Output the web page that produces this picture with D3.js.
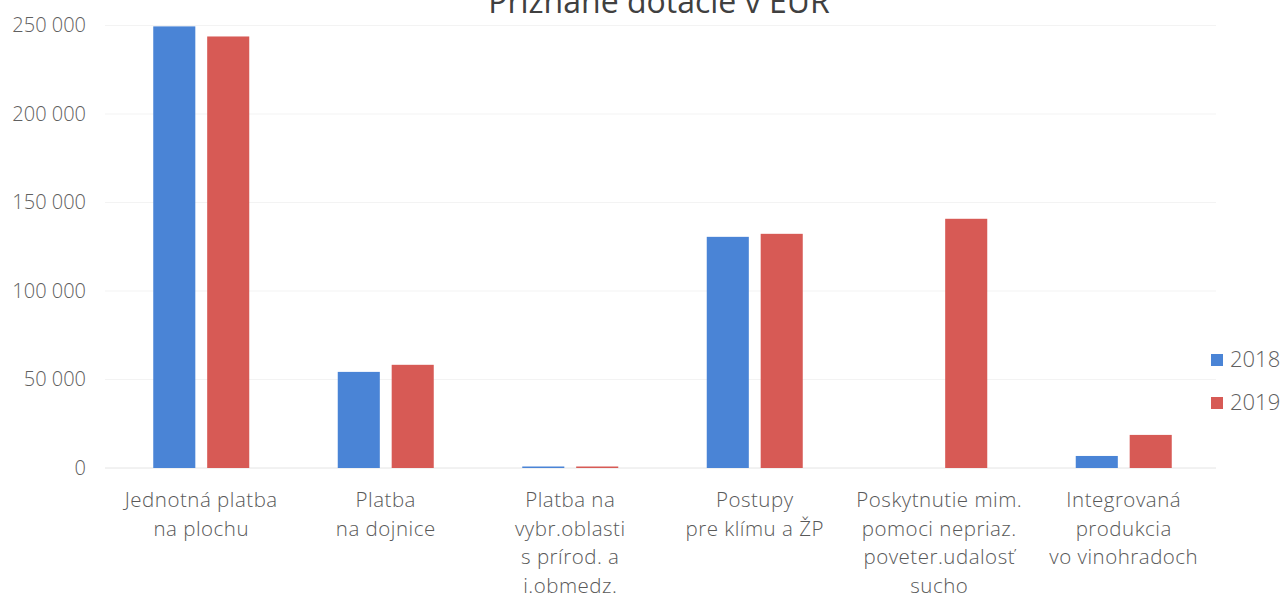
<!DOCTYPE html>
<html><head><meta charset="utf-8">
<script src="https://cdn.jsdelivr.net/npm/d3@7"></script>
<style>
html,body{margin:0;padding:0;background:#fff;}
svg{display:block;font-family:"Open Sans","Lato",sans-serif;}
</style></head>
<body>
<svg id="c" width="1282" height="598"></svg>
<script>
const categories = [
  ["Jednotná platba","na plochu"],
  ["Platba","na dojnice"],
  ["Platba na","vybr.oblasti","s prírod. a","i.obmedz."],
  ["Postupy","pre klímu a ŽP"],
  ["Poskytnutie mim.","pomoci nepriaz.","poveter.udalosť","sucho"],
  ["Integrovaná","produkcia","vo vinohradoch"]
];
const seriesNames = ["2018","2019"];
const values2018 = [249500, 54300, 500, 130600, 0, 6800];
const values2019 = [243800, 58300, 800, 132300, 140800, 18700];
const tickValues = [0, 50000, 100000, 150000, 200000, 250000];
const tickLabels = ["0","50 000","100 000","150 000","200 000","250 000"];
const colors = ["#4a84d6","#d75a55"];

const svg = d3.select("#c");
const x = d3.scaleBand().domain(d3.range(categories.length)).range([109,1216]);
const y = d3.scaleLinear().domain([0,250000]).range([468,25.5]);
const sub = d3.scaleBand().domain([0,1]).range([x.bandwidth()/2-48, x.bandwidth()/2+48]).paddingInner(0.22);

// gridlines
svg.append("g").selectAll("line").data(tickValues).join("line")
  .attr("x1",105).attr("x2",1216)
  .attr("y1",d=>y(d)).attr("y2",d=>y(d))
  .attr("stroke",d=>d===0?"#e4e4e4":"#f3f3f3").attr("stroke-width",1);

// y axis labels
const yAxis = d3.axisLeft(y).tickValues(tickValues).tickSize(0).tickPadding(0)
  .tickFormat((d,i)=>tickLabels[i]);
const ga = svg.append("g").attr("transform","translate(86,0)").call(yAxis);
ga.select(".domain").remove();
ga.selectAll("text").attr("font-size",20).attr("fill","#606060").attr("font-weight",300)
  .attr("font-family","'Open Sans',sans-serif");

// bars
const data = [values2018, values2019];
const groups = svg.append("g").selectAll("g").data(categories).join("g")
  .attr("transform",(d,i)=>`translate(${x(i)},0)`);
groups.selectAll("rect").data((d,i)=>[0,1].map(s=>({s,v:data[s][i]}))).join("rect")
  .filter(d=>d.v>0)
  .attr("x",d=>sub(d.s)).attr("width",sub.bandwidth())
  .attr("y",d=>Math.min(y(d.v), y(0)-1.5)).attr("height",d=>Math.max(y(0)-y(d.v),1.5))
  .attr("fill",d=>colors[d.s]);

// category labels
groups.append("text").attr("x",x.bandwidth()/2).attr("text-anchor","middle")
  .attr("font-size",20.5).attr("letter-spacing",0.5).attr("fill","#595959").attr("font-weight",300)
  .selectAll("tspan").data(d=>d).join("tspan")
  .attr("x",x.bandwidth()/2).attr("y",(d,i)=>507+i*28.7).text(d=>d);

// title
svg.append("text").attr("x",659).attr("y",13).attr("text-anchor","middle")
  .attr("font-size",32).attr("fill","#404040").text("Priznané dotácie v EUR");

// legend
const lg = svg.append("g").selectAll("g").data(seriesNames).join("g")
  .attr("transform",(d,i)=>`translate(1211,${354+i*43})`);
lg.append("rect").attr("width",12).attr("height",12).attr("fill",(d,i)=>colors[i]);
lg.append("text").attr("x",19).attr("y",13).attr("font-size",22).attr("fill","#606060")
  .attr("font-weight",300).text(d=>d);
</script>
</body></html>
